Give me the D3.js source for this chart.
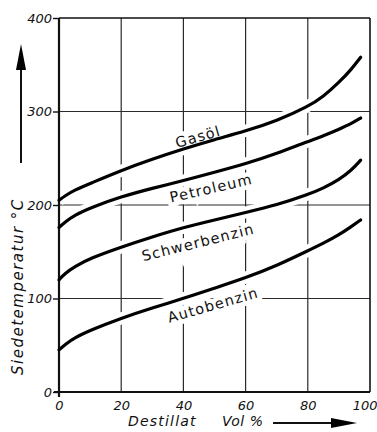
<!DOCTYPE html>
<html>
<head>
<meta charset="utf-8">
<script src="https://cdn.jsdelivr.net/npm/d3@7"></script>
<style>
  body { margin: 0; background: #fff; }
  svg { display: block; }
  text { font-family: "DejaVu Sans", sans-serif; fill: #111; }
</style>
</head>
<body>
<svg id="chart"></svg>
<script>
// distillate fraction (Vol %) at which the boiling points were read
var distillat = [0, 2, 5, 10, 20, 30, 40, 50, 60, 70, 80, 85, 90, 94, 97];

// boiling temperature in °C
var gasoel       = [205, 210, 216, 223, 237, 249, 260, 270, 279, 290, 305, 316, 331, 345, 358];
var petroleum    = [176, 182, 189, 197, 209, 218, 226, 235, 244, 255, 268, 274, 281, 287, 293];
var schwerbenzin = [120, 127, 134, 143, 155, 166, 176, 184, 192, 200, 211, 218, 227, 237, 248];
var autobenzin   = [45, 51, 58, 66, 79, 90, 100, 111, 122, 135, 151, 159, 168, 177, 184];

var names = ["Gasöl", "Petroleum", "Schwerbenzin", "Autobenzin"];
var xTicks = [0, 20, 40, 60, 80, 100];
var yTicks = [0, 100, 200, 300, 400];

var series = [gasoel, petroleum, schwerbenzin, autobenzin].map(function(vals, i) {
    return {
        name: names[i],
        points: vals.map(function(v, j) { return {x: distillat[j], y: v}; })
    };
});

// where the curve names sit (data units) and their slant
var labelPos = [
    {x: 44.7, y: 273, angle: -16},
    {x: 48.9, y: 218, angle: -13},
    {x: 44.7, y: 160, angle: -14},
    {x: 49.5, y: 93,  angle: -16}
];

var w = 377, h = 432;
var x = d3.scaleLinear().domain([0, 100]).range([59, 370]);
var y = d3.scaleLinear().domain([0, 400]).range([392, 18]);

var svg = d3.select("#chart").attr("width", w).attr("height", h);

// grid
var grid = svg.append("g").attr("stroke", "#2a2a2a").attr("stroke-width", 1.2);
grid.selectAll(".vg").data(xTicks.slice(1, -1)).enter().append("line")
    .attr("x1", function(d) { return x(d); }).attr("x2", function(d) { return x(d); })
    .attr("y1", y(0)).attr("y2", y(400));
grid.selectAll(".hg").data(yTicks.slice(1, -1)).enter().append("line")
    .attr("x1", x(0)).attr("x2", x(100))
    .attr("y1", function(d) { return y(d); }).attr("y2", function(d) { return y(d); });

var line = d3.line()
    .x(function(d) { return x(d.x); })
    .y(function(d) { return y(d.y); })
    .curve(d3.curveBasis);

// white gaps in the grid around the curves
svg.append("g").selectAll("path").data(series).enter().append("path")
    .attr("d", function(d) { return line(d.points); })
    .attr("fill", "none").attr("stroke", "#fff").attr("stroke-width", 12);

// curve names with a white halo
svg.append("g").selectAll("text").data(series).enter().append("text")
    .attr("transform", function(d, i) {
        var p = labelPos[i];
        return "translate(" + x(p.x) + "," + y(p.y) + ") rotate(" + p.angle + ")";
    })
    .attr("text-anchor", "middle").attr("dy", "0.35em")
    .style("font-size", "14.5px").style("letter-spacing", "1.2px")
    .attr("stroke", "#fff").attr("stroke-width", 9).attr("paint-order", "stroke")
    .text(function(d) { return d.name; });

// frame
var frame = svg.append("g").attr("stroke", "#111").attr("fill", "none");
frame.append("line").attr("x1", x(0)).attr("x2", x(0)).attr("y1", y(0) + 5).attr("y2", y(400)).attr("stroke-width", 2.2);
frame.append("line").attr("x1", x(0) - 5).attr("x2", x(100)).attr("y1", y(0)).attr("y2", y(0)).attr("stroke-width", 2);
frame.append("line").attr("x1", x(0)).attr("x2", x(100)).attr("y1", y(400)).attr("y2", y(400)).attr("stroke-width", 1.4);
frame.append("line").attr("x1", x(100)).attr("x2", x(100)).attr("y1", y(0)).attr("y2", y(400)).attr("stroke-width", 1.6);

// curves
svg.append("g").selectAll("path").data(series).enter().append("path")
    .attr("d", function(d) { return line(d.points); })
    .attr("fill", "none").attr("stroke", "#000").attr("stroke-width", 3.2)
    .attr("stroke-linecap", "round");

// axes
var yAxis = svg.append("g").attr("transform", "translate(" + x(0) + ",0)")
    .call(d3.axisLeft(y).tickValues(yTicks).tickSize(6).tickPadding(1));
var xAxis = svg.append("g").attr("transform", "translate(0," + y(0) + ")")
    .call(d3.axisBottom(x).tickValues(xTicks).tickSize(0).tickPadding(9));
[yAxis, xAxis].forEach(function(a) {
    a.select(".domain").remove();
    a.selectAll(".tick line").attr("stroke", "#111").attr("stroke-width", 1.4);
    a.selectAll("text").style("font-size", "13px").style("font-style", "italic")
        .style("font-family", "'DejaVu Sans', sans-serif").attr("fill", "#111");
});
// the last label sits at the window edge
xAxis.selectAll(".tick").filter(function(d) { return d === 100; })
    .select("text").attr("text-anchor", "end").attr("x", 7);

// axis titles with arrows
svg.append("text").attr("x", 128).attr("y", 426)
    .style("font-size", "14px").style("font-style", "italic").style("letter-spacing", "1.2px")
    .text("Destillat");
svg.append("text").attr("x", 222).attr("y", 426)
    .style("font-size", "14px").style("font-style", "italic").style("letter-spacing", "0.5px")
    .text("Vol %");
svg.append("line").attr("x1", 273).attr("x2", 335).attr("y1", 423).attr("y2", 423)
    .attr("stroke", "#111").attr("stroke-width", 2);
svg.append("path").attr("d", "M331,418 L357,423 L331,428 Z").attr("fill", "#000");

svg.append("text").attr("transform", "translate(23,375) rotate(-90)")
    .style("font-size", "15px").style("font-style", "italic").style("letter-spacing", "1.5px")
    .text("Siedetemperatur  °C");
svg.append("line").attr("x1", 21).attr("x2", 21).attr("y1", 163).attr("y2", 62)
    .attr("stroke", "#111").attr("stroke-width", 2);
svg.append("path").attr("d", "M16,70 L21,44 L26,70 Z").attr("fill", "#000");
</script>
</body>
</html>
